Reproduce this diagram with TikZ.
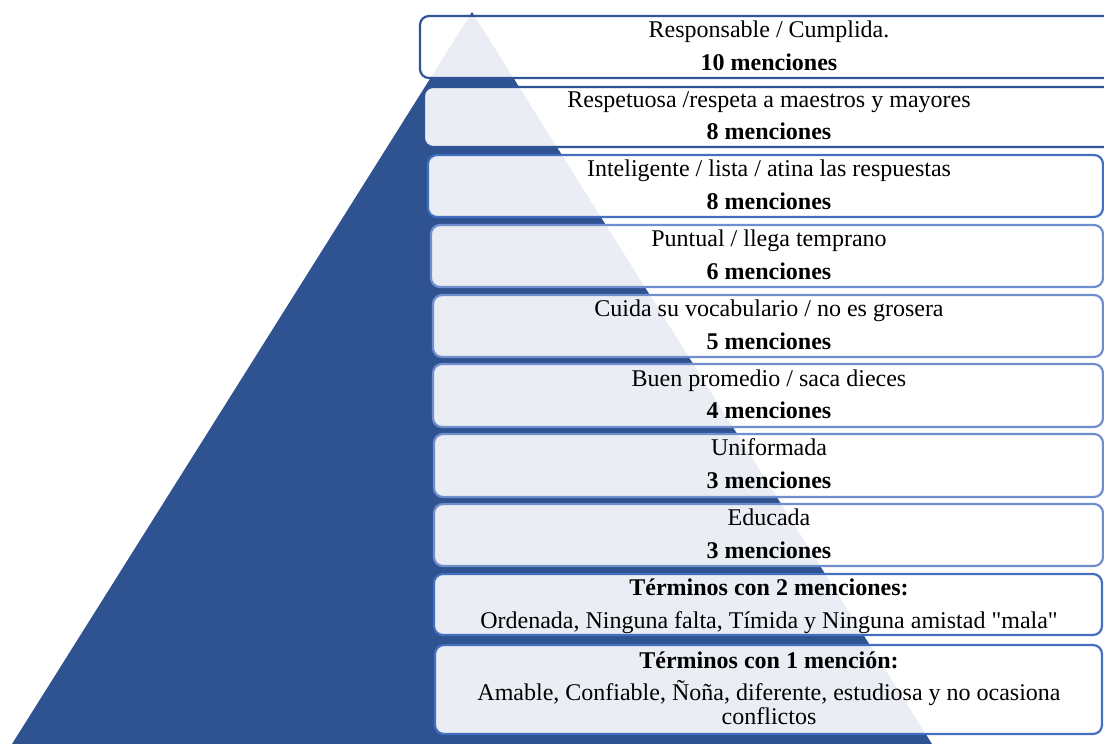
\documentclass[tikz,border=0pt]{standalone}
\usepackage{fontspec}
\setmainfont{Liberation Serif}
\definecolor{tri}{RGB}{47,83,144}
\definecolor{bdark}{RGB}{47,85,151}
\definecolor{bmid}{RGB}{68,110,192}
\definecolor{blight}{RGB}{112,141,206}
\begin{document}
\begin{tikzpicture}[x=1pt,y=-1pt,
  box/.style={draw=blight, line width=2.2pt, rounded corners=9pt, fill=white, fill opacity=0.9, text opacity=1},
  txt/.style={font=\fontsize{24}{27}\selectfont, text height=17pt, text depth=5pt, inner sep=0pt, text=black},
  bld/.style={txt, font=\fontsize{24}{27}\selectfont\bfseries}]
\useasboundingbox (0,0) rectangle (1104,744);
\begin{scope}
\clip (0,0) rectangle (1104,744);
\coordinate (apex) at (472,12);
\coordinate (bl) at (12,744);
\coordinate (br) at (932,744);
\fill[tri] (apex) -- (br) -- (bl) -- cycle;
% boxes
\draw[box, draw=bdark] (420,16) rectangle (1120,78) coordinate (b1);
\draw[box, draw=bdark] (424,87) rectangle (1116,147) coordinate (b2);
\draw[box, draw=bmid] (428,155) rectangle (1103,217) coordinate (b3);
\draw[box] (431,225) rectangle (1103,287) coordinate (b4);
\draw[box] (433,295) rectangle (1103,357) coordinate (b5);
\draw[box] (433,364) rectangle (1103,427) coordinate (b6);
\draw[box] (434,434) rectangle (1103,497) coordinate (b7);
\draw[box] (434,504) rectangle (1103,566) coordinate (b8);
\draw[box, draw=bmid] (434,574) rectangle (1102,635) coordinate (b9);
\draw[box, draw=bmid] (435,645) rectangle (1102,734) coordinate (b10);
\end{scope}
% texts
\node[txt] (t1a) at (769,31) {Responsable / Cumplida.};
\node[bld] (t1b) at (769,64) {10 menciones};
\node[txt] (t2a) at (769,101) {Respetuosa /respeta a maestros y mayores};
\node[bld] (t2b) at (769,133) {8 menciones};
\node[txt] (t3a) at (769,170) {Inteligente / lista / atina las respuestas};
\node[bld] (t3b) at (769,203) {8 menciones};
\node[txt] (t4a) at (769,240) {Puntual / llega temprano};
\node[bld] (t4b) at (769,273) {6 menciones};
\node[txt] (t5a) at (769,310) {Cuida su vocabulario / no es grosera};
\node[bld] (t5b) at (769,343) {5 menciones};
\node[txt] (t6a) at (769,380) {Buen promedio / saca dieces};
\node[bld] (t6b) at (769,412) {4 menciones};
\node[txt] (t7a) at (769,449) {Uniformada};
\node[bld] (t7b) at (769,482) {3 menciones};
\node[txt] (t8a) at (769,519) {Educada};
\node[bld] (t8b) at (769,552) {3 menciones};
\node[bld] (t9a) at (769,589) {Términos con 2 menciones:};
\node[txt] (t9b) at (769,622) {Ordenada, Ninguna falta, Tímida y Ninguna amistad \textquotedbl mala\textquotedbl};
\node[bld] (t10a) at (769,662) {Términos con 1 mención:};
\node[txt] (t10b) at (769,694) {Amable, Confiable, Ñoña, diferente, estudiosa y no ocasiona};
\node[txt] (t10c) at (769,718) {conflictos};
\end{tikzpicture}
\end{document}
